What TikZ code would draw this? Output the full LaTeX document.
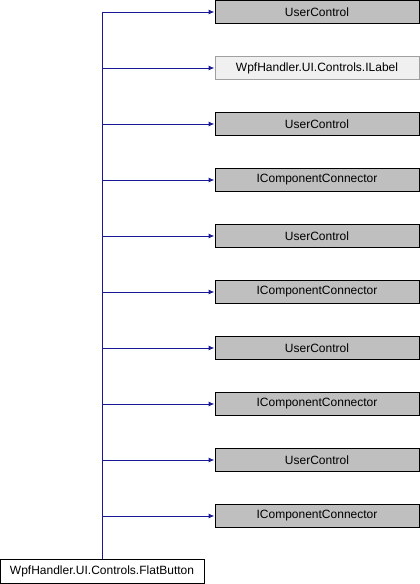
\documentclass[tikz,border=0pt]{standalone}
\usepackage{fontspec}
\setmainfont{Liberation Sans}
\usetikzlibrary{arrows.meta}
\definecolor{edgeblue}{RGB}{25,25,150}
\definecolor{boxgray}{RGB}{191,191,191}
\definecolor{lightfill}{RGB}{240,240,240}
\definecolor{lightborder}{RGB}{160,160,160}
\begin{document}
\begin{tikzpicture}[x=1pt,y=1pt,
  cls/.style={draw=black,fill=boxgray,line width=1pt,minimum width=204pt,minimum height=23pt,inner sep=0pt,font=\fontsize{12}{14}\selectfont},
  ext/.style={draw=lightborder,fill=lightfill,line width=1pt,minimum width=204pt,minimum height=23pt,inner sep=0pt,font=\fontsize{12}{14}\selectfont},
  main/.style={draw=black,fill=white,line width=1pt,minimum width=204pt,minimum height=24pt,inner sep=0pt,font=\fontsize{12}{14}\selectfont},
  edge/.style={draw=edgeblue,line width=1pt,-{Latex[length=6pt,width=5pt]}}]
\useasboundingbox (0,0) rectangle (420,-584);
\node[cls] (b1) at (317,-12) {UserControl};
\node[ext] (b2) at (317,-68) {WpfHandler.UI.Controls.ILabel};
\node[cls] (b3) at (317,-124) {UserControl};
\node[cls] (b4) at (317,-180) {IComponentConnector};
\node[cls] (b5) at (317,-236) {UserControl};
\node[cls] (b6) at (317,-292) {IComponentConnector};
\node[cls] (b7) at (317,-348) {UserControl};
\node[cls] (b8) at (317,-404) {IComponentConnector};
\node[cls] (b9) at (317,-460) {UserControl};
\node[cls] (b10) at (317,-516) {IComponentConnector};
\node[main] (fb) at (102,-571) {WpfHandler.UI.Controls.FlatButton};
\foreach \b in {b1,b2,b3,b4,b5,b6,b7,b8,b9,b10}{
  \draw[edge] (fb.north) |- (\b.west);
}
\end{tikzpicture}
\end{document}
